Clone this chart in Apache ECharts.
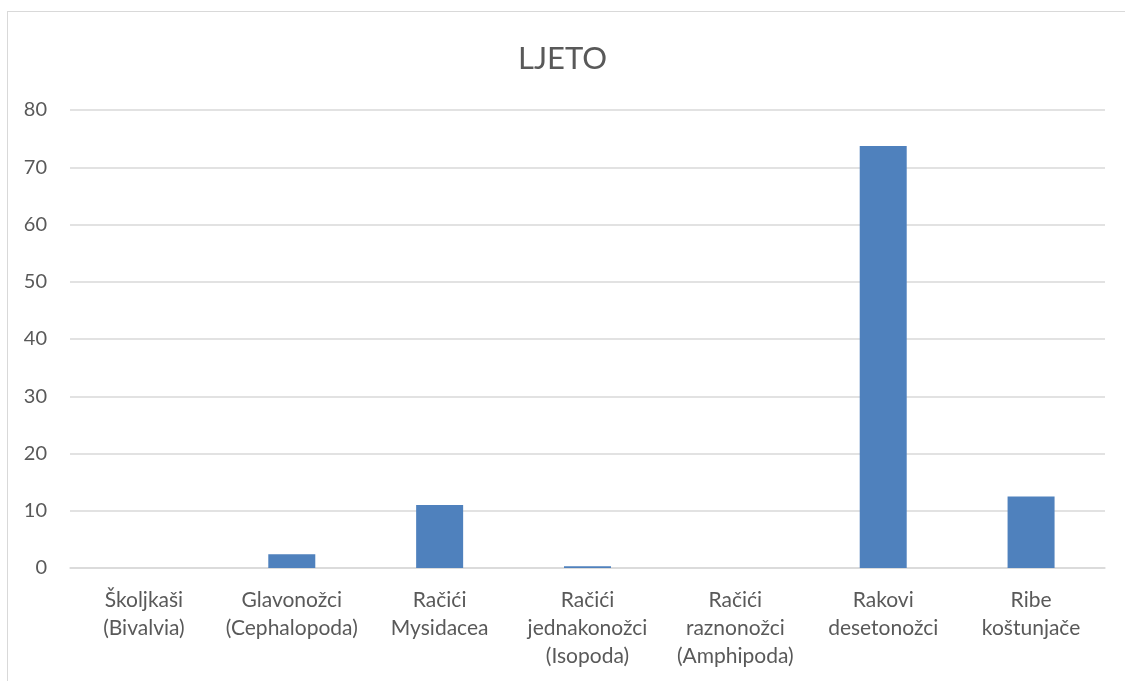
<!DOCTYPE html>
<html>
<head>
<meta charset="utf-8">
<script src="https://cdn.jsdelivr.net/npm/echarts@6/dist/echarts.min.js"></script>
<style>
  html, body { margin: 0; padding: 0; background: #fff; }
  #chart { width: 1125px; height: 681px; }
  .frame { position: absolute; left: 7px; top: 11px; width: 1140px; height: 700px; border: 1px solid #d9d9d9; box-sizing: border-box; pointer-events: none; }
</style>
</head>
<body>
<div id="chart"></div>
<div class="frame"></div>
<script>
  // data
  var categories = [
    'Školjkaši\n(Bivalvia)',
    'Glavonožci\n(Cephalopoda)',
    'Račići\nMysidacea',
    'Račići\njednakonožci\n(Isopoda)',
    'Račići\nraznonožci\n(Amphipoda)',
    'Rakovi\ndesetonožci',
    'Ribe\nkoštunjače'
  ];
  var values = [0, 2.4, 11.0, 0.3, 0, 73.7, 12.5];

  var chart = echarts.init(document.getElementById('chart'));
  chart.setOption({
    animation: false,
    textStyle: { fontFamily: 'Lato' },
    title: {
      text: 'LJETO',
      left: 'center',
      top: 38,
      textStyle: { fontFamily: 'Lato', fontSize: 31, fontWeight: 'normal', color: '#595959' }
    },
    grid: { left: 70, right: 20, top: 110, bottom: 113, containLabel: false },
    xAxis: {
      type: 'category',
      data: categories,
      axisLine: { show: true, lineStyle: { color: '#d9d9d9', width: 1.5 } },
      axisTick: { show: false },
      axisLabel: { color: '#595959', fontSize: 21, lineHeight: 28, margin: 18, interval: 0 }
    },
    yAxis: {
      type: 'value',
      min: 0,
      max: 80,
      interval: 10,
      axisLine: { show: false },
      axisTick: { show: false },
      axisLabel: { color: '#595959', fontSize: 20, margin: 23 },
      splitLine: { lineStyle: { color: '#d9d9d9', width: 1.5 } }
    },
    series: [{
      type: 'bar',
      data: values,
      barWidth: 47,
      itemStyle: { color: '#4f81bd' }
    }]
  });
</script>
</body>
</html>
